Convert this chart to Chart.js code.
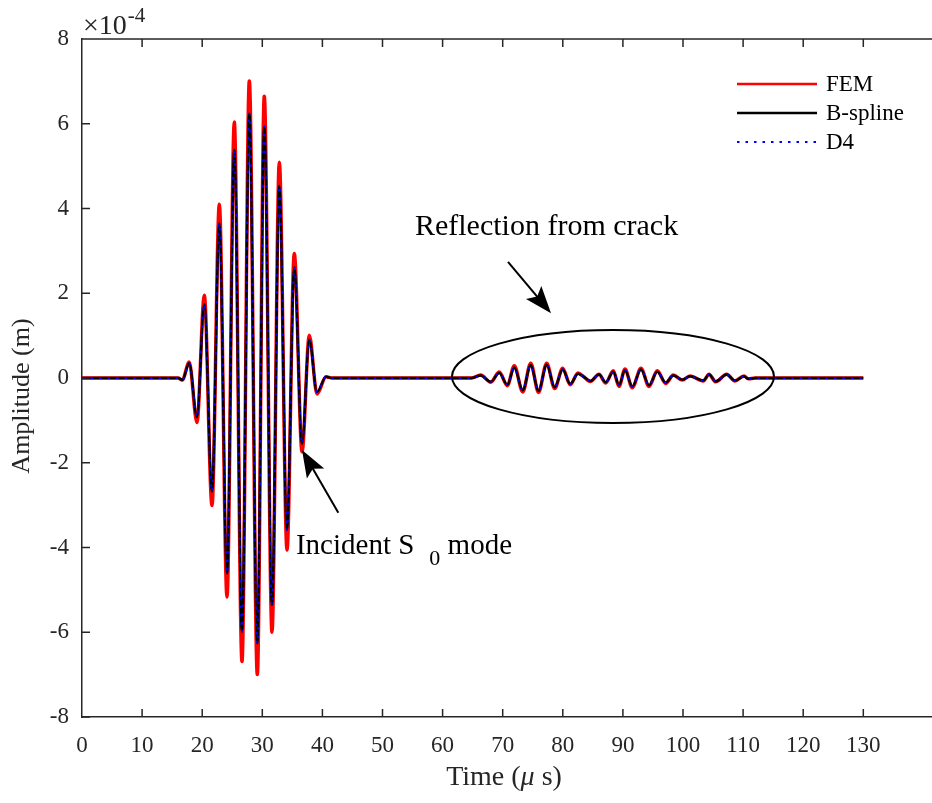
<!DOCTYPE html>
<html>
<head>
<meta charset="utf-8">
<script src="https://cdn.jsdelivr.net/npm/chart.js@4.4.0/dist/chart.umd.min.js"></script>
<style>
  html, body { margin: 0; padding: 0; background: #fff; overflow: hidden; }
  #wrap { width: 1000px; height: 803px; }
</style>
</head>
<body>
<div id="wrap"><canvas id="myChart" width="1000" height="803"></canvas></div>
<script>
// time in microseconds, amplitudes in units of 1e-4 m
const timeUs = [
  0, 16.0, 16.69, 17.84, 19.13, 20.35, 21.63, 22.85, 24.13, 25.34, 26.62, 27.84,
  29.17, 30.33, 31.61, 32.83, 34.11, 35.32, 36.61, 37.82, 39.10, 40.6, 41.6, 64.8,
  66.34, 68.00, 69.43, 70.77, 71.93, 73.33, 74.66, 75.96, 77.32, 78.65, 79.98, 81.23,
  82.53, 83.48, 84.58, 86.02, 87.14, 88.40, 89.35, 90.35, 91.56, 93.01, 94.34, 95.72,
  97.12, 98.39, 99.88, 101.16, 103.38, 104.33, 105.44, 107.27, 108.65, 110.15, 110.87, 112.0,
  130
];
const femAmp = [
  0, 0, -0.05, 0.38, -1.05, 1.95, -3.01, 4.10, -5.17, 6.04, -6.69, 7.01,
  -7.00, 6.65, -6.00, 5.09, -4.06, 2.94, -1.74, 1.01, -0.38, 0.03, 0, 0,
  0.07, -0.10, 0.14, -0.18, 0.29, -0.33, 0.35, -0.34, 0.35, -0.25, 0.23, -0.16,
  0.12, 0.03, -0.08, 0.09, -0.12, 0.17, -0.20, 0.21, -0.23, 0.23, -0.20, 0.17,
  -0.13, 0.07, -0.05, 0.05, -0.07, 0.09, -0.09, 0.09, -0.07, 0.05, -0.02, 0,
  0
];
const bsplineAmp = [
  0, 0, -0.05, 0.35, -0.92, 1.74, -2.68, 3.65, -4.61, 5.38, -5.98, 6.24,
  -6.26, 5.93, -5.35, 4.53, -3.58, 2.61, -1.55, 0.90, -0.33, 0.03, 0, 0,
  0.06, -0.09, 0.12, -0.16, 0.25, -0.29, 0.30, -0.30, 0.31, -0.22, 0.20, -0.14,
  0.10, 0.03, -0.07, 0.08, -0.10, 0.15, -0.17, 0.18, -0.20, 0.20, -0.17, 0.15,
  -0.11, 0.06, -0.04, 0.04, -0.06, 0.08, -0.08, 0.08, -0.06, 0.04, -0.02, 0,
  0
];
const d4Amp = [
  0, 0, -0.05, 0.35, -0.92, 1.74, -2.68, 3.65, -4.61, 5.38, -5.98, 6.24,
  -6.26, 5.93, -5.35, 4.53, -3.58, 2.61, -1.55, 0.90, -0.33, 0.03, 0, 0,
  0.06, -0.09, 0.12, -0.16, 0.25, -0.29, 0.30, -0.30, 0.31, -0.22, 0.20, -0.14,
  0.10, 0.03, -0.07, 0.08, -0.10, 0.15, -0.17, 0.18, -0.20, 0.20, -0.17, 0.15,
  -0.11, 0.06, -0.04, 0.04, -0.06, 0.08, -0.08, 0.08, -0.06, 0.04, -0.02, 0,
  0
];
const seriesNames = ['FEM', 'B-spline', 'D4'];
const xTickValues = [0, 10, 20, 30, 40, 50, 60, 70, 80, 90, 100, 110, 120, 130];
const yTickValues = [-8, -6, -4, -2, 0, 2, 4, 6, 8];

const serif = "'Liberation Serif', 'Times New Roman', serif";
const axisColor = '#262626';

const toPoints = (vals) => timeUs.map((t, i) => ({ x: t, y: vals[i] }));

// callouts, in data units
const notes = {
  ellipse: { cx: 88.35, cy: 0.035, rx: 26.79, ry: 1.097 },
  reflText: { x: 55.4, y: 3.37, text: 'Reflection from crack' },
  reflArrow: { x0: 70.88, y0: 2.74, x1: 78.04, y1: 1.53 },
  incText: { x: 35.6, y: -4.15 },
  incArrow: { x0: 42.65, y0: -3.18, x1: 36.61, y1: -1.70 }
};

const legendItems = [
  { color: '#ff0000', width: 2.5, dash: [] },
  { color: '#000000', width: 2.5, dash: [] },
  { color: '#0000ff', width: 2, dash: [2.5, 6] }
];

function drawArrow(ctx, x0, y0, x1, y1) {
  const ang = Math.atan2(y1 - y0, x1 - x0);
  const len = 27, half = 10;
  const c = Math.cos(ang), s = Math.sin(ang);
  const bx = x1 - len * c, by = y1 - len * s;
  ctx.beginPath();
  ctx.moveTo(x0, y0);
  ctx.lineTo(x1 - 15 * c, y1 - 15 * s);
  ctx.stroke();
  ctx.beginPath();
  ctx.moveTo(x1, y1);
  ctx.lineTo(bx + half * s, by - half * c);
  ctx.lineTo(x1 - len * 0.8 * c, y1 - len * 0.8 * s);
  ctx.lineTo(bx - half * s, by + half * c);
  ctx.closePath();
  ctx.fill();
}

const framePlugin = {
  id: 'frame',
  afterDatasetsDraw(chart) {
    const ctx = chart.ctx;
    const area = chart.chartArea;
    const xs = chart.scales.x, ys = chart.scales.y;
    ctx.save();

    // top border and inward ticks
    ctx.strokeStyle = axisColor;
    ctx.lineWidth = 1.5;
    ctx.beginPath();
    ctx.moveTo(area.left, area.top);
    ctx.lineTo(area.right, area.top);
    xTickValues.forEach((v) => {
      if (v === 0) return;
      const px = xs.getPixelForValue(v);
      ctx.moveTo(px, area.bottom); ctx.lineTo(px, area.bottom - 8);
      ctx.moveTo(px, area.top); ctx.lineTo(px, area.top + 8);
    });
    yTickValues.forEach((v) => {
      const py = ys.getPixelForValue(v);
      ctx.moveTo(area.left, py); ctx.lineTo(area.left + 8, py);
    });
    ctx.stroke();

    // exponent
    ctx.fillStyle = '#262626';
    ctx.textBaseline = 'alphabetic';
    ctx.textAlign = 'left';
    ctx.font = '28px ' + serif;
    ctx.fillText('\u00d710', 83, 34);
    const w10 = ctx.measureText('\u00d710').width;
    ctx.font = '21px ' + serif;
    ctx.fillText('-4', 83 + w10 + 1, 22);

    // axis titles
    ctx.font = '28px ' + serif;
    const p1 = 'Time (', p3 = ' s)';
    const w1 = ctx.measureText(p1).width, w3 = ctx.measureText(p3).width;
    ctx.font = 'italic 28px ' + serif;
    const w2 = ctx.measureText('\u03bc').width;
    const tx = 504 - (w1 + w2 + w3) / 2;
    ctx.font = '28px ' + serif;
    ctx.fillText(p1, tx, 785);
    ctx.font = 'italic 28px ' + serif;
    ctx.fillText('\u03bc', tx + w1, 785);
    ctx.font = '28px ' + serif;
    ctx.fillText(p3, tx + w1 + w2, 785);

    ctx.save();
    ctx.font = '26px ' + serif;
    ctx.translate(22, 396);
    ctx.rotate(-Math.PI / 2);
    ctx.textAlign = 'center';
    ctx.textBaseline = 'middle';
    ctx.fillText('Amplitude (m)', 0, 0);
    ctx.restore();

    // legend
    ctx.font = '23px ' + serif;
    ctx.textBaseline = 'middle';
    ctx.fillStyle = '#000';
    legendItems.forEach((it, i) => {
      const y = 84 + i * 29;
      ctx.strokeStyle = it.color;
      ctx.lineWidth = it.width;
      ctx.setLineDash(it.dash);
      ctx.beginPath();
      ctx.moveTo(737, y);
      ctx.lineTo(817, y);
      ctx.stroke();
      ctx.setLineDash([]);
      ctx.fillText(seriesNames[i], 826, y + 1);
    });

    // callouts
    ctx.strokeStyle = '#000';
    ctx.fillStyle = '#000';
    ctx.lineWidth = 2;
    const e = notes.ellipse;
    const ecx = xs.getPixelForValue(e.cx), ecy = ys.getPixelForValue(e.cy);
    const erx = xs.getPixelForValue(e.cx + e.rx) - ecx;
    const ery = ecy - ys.getPixelForValue(e.cy + e.ry);
    ctx.beginPath();
    ctx.ellipse(ecx, ecy, erx, ery, 0, 0, Math.PI * 2);
    ctx.stroke();

    const ra = notes.reflArrow, ia = notes.incArrow;
    drawArrow(ctx, xs.getPixelForValue(ra.x0), ys.getPixelForValue(ra.y0),
      xs.getPixelForValue(ra.x1), ys.getPixelForValue(ra.y1));
    drawArrow(ctx, xs.getPixelForValue(ia.x0), ys.getPixelForValue(ia.y0),
      xs.getPixelForValue(ia.x1), ys.getPixelForValue(ia.y1));

    ctx.textBaseline = 'alphabetic';
    ctx.textAlign = 'left';
    ctx.font = '30px ' + serif;
    ctx.fillText(notes.reflText.text, xs.getPixelForValue(notes.reflText.x), ys.getPixelForValue(notes.reflText.y));

    let ix = xs.getPixelForValue(notes.incText.x);
    const iy = ys.getPixelForValue(notes.incText.y);
    ctx.font = '29px ' + serif;
    ctx.fillText('Incident S', ix, iy);
    ix += ctx.measureText('Incident S').width + 15;
    ctx.font = '22px ' + serif;
    ctx.fillText('0', ix, iy + 11);
    ix += ctx.measureText('0').width;
    ctx.font = '29px ' + serif;
    ctx.fillText(' mode', ix, iy);

    ctx.restore();
  }
};

new Chart(document.getElementById('myChart'), {
  type: 'line',
  data: {
    datasets: [
      {
        label: seriesNames[0],
        data: toPoints(femAmp),
        borderColor: '#ff0000',
        borderWidth: 3.5,
        order: 3
      },
      {
        label: seriesNames[1],
        data: toPoints(bsplineAmp),
        borderColor: '#000000',
        borderWidth: 2.5,
        order: 2
      },
      {
        label: seriesNames[2],
        data: toPoints(d4Amp),
        borderColor: '#0000ff',
        borderWidth: 2,
        borderDash: [2.5, 6],
        order: 1
      }
    ]
  },
  options: {
    responsive: false,
    animation: false,
    devicePixelRatio: 1,
    layout: { padding: { top: 39, right: 16.5, bottom: 0, left: 0 } },
    elements: {
      point: { radius: 0, hoverRadius: 0 },
      line: { cubicInterpolationMode: 'monotone', fill: false }
    },
    plugins: {
      legend: { display: false },
      tooltip: { enabled: false }
    },
    scales: {
      x: {
        type: 'linear',
        min: 0,
        max: 150,
        grid: { display: false, drawTicks: false },
        border: { display: true, color: axisColor, width: 1.5 },
        ticks: {
          color: '#262626',
          font: { family: serif, size: 23 },
          padding: 15,
          maxRotation: 0,
          autoSkip: false,
          callback: (v) => String(v)
        },
        afterBuildTicks: (s) => { s.ticks = xTickValues.map((v) => ({ value: v })); },
        afterFit: (s) => { s.height = 86; }
      },
      y: {
        min: -8,
        max: 8,
        grid: { display: false, drawTicks: false },
        border: { display: true, color: axisColor, width: 1.5 },
        ticks: {
          color: '#262626',
          font: { family: serif, size: 23 },
          padding: 13,
          autoSkip: false,
          callback: (v) => String(v)
        },
        afterBuildTicks: (s) => { s.ticks = yTickValues.map((v) => ({ value: v })); },
        afterFit: (s) => { s.width = 82; }
      }
    }
  },
  plugins: [framePlugin]
});
</script>
</body>
</html>
